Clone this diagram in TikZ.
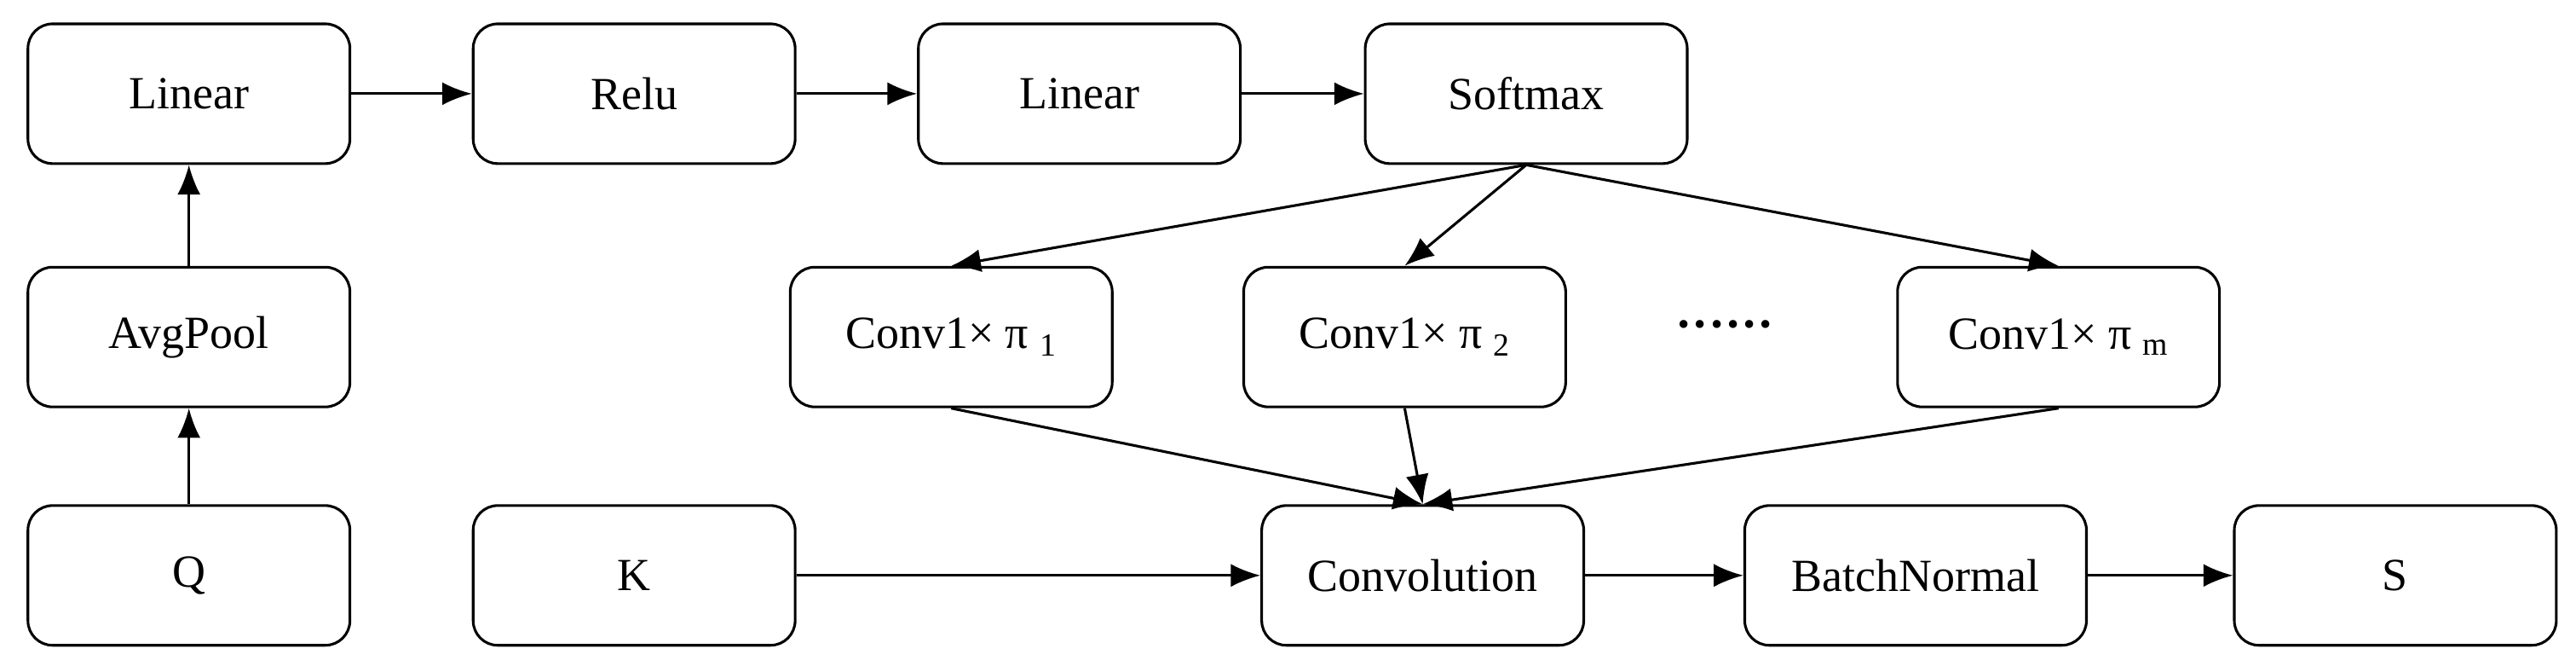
\documentclass[tikz,border=0pt]{standalone}
\usepackage{fontspec}
\setmainfont{Liberation Serif}
\usetikzlibrary{arrows.meta}
\begin{document}
\begin{tikzpicture}[x=1pt,y=-1pt,
  box/.style={draw,line width=1.6pt,rounded corners=15pt,minimum width=196pt,minimum height=85pt,font=\fontsize{28}{32}\selectfont,inner sep=0pt},
  arr/.style={-{Latex[length=18pt,width=14pt]},line width=1.6pt}]
\useasboundingbox (0,0) rectangle (1568,405);
\node[box] (lin1) at (115,57) {Linear};
\node[box] (relu) at (386,57) {Relu};
\node[box] (lin2) at (657,57) {Linear};
\node[box] (soft) at (929,57) {Softmax};
\node[box] (avg) at (115,205) {AvgPool};
\node[box] (q) at (115,350) {Q};
\node[box] (c1) at (579,205) {Conv1× π \textsubscript{1}};
\node[box] (c2) at (855,205) {Conv1× π \textsubscript{2}};
\node[font=\fontsize{30}{34}\selectfont\bfseries] (dots) at (1050,201) {······};
\node[box] (cm) at (1253,205) {Conv1× π \textsubscript{m}};
\node[box] (k) at (386,350) {K};
\node[box] (conv) at (866,350) {Convolution};
\node[box,minimum width=208pt] (bn) at (1166,350) {BatchNormal};
\node[box] (s) at (1458,350) {S};
\draw[arr] (q) -- (avg);
\draw[arr] (avg) -- (lin1);
\draw[arr] (lin1) -- (relu);
\draw[arr] (relu) -- (lin2);
\draw[arr] (lin2) -- (soft);
\draw[arr] (soft.south) -- (c1.north);
\draw[arr] (soft.south) -- (c2.north);
\draw[arr] (soft.south) -- (cm.north);
\draw[arr] (c1.south) -- (conv.north);
\draw[arr] (c2.south) -- (conv.north);
\draw[arr] (cm.south) -- (conv.north);
\draw[arr] (k) -- (conv);
\draw[arr] (conv) -- (bn);
\draw[arr] (bn) -- (s);
\end{tikzpicture}
\end{document}
